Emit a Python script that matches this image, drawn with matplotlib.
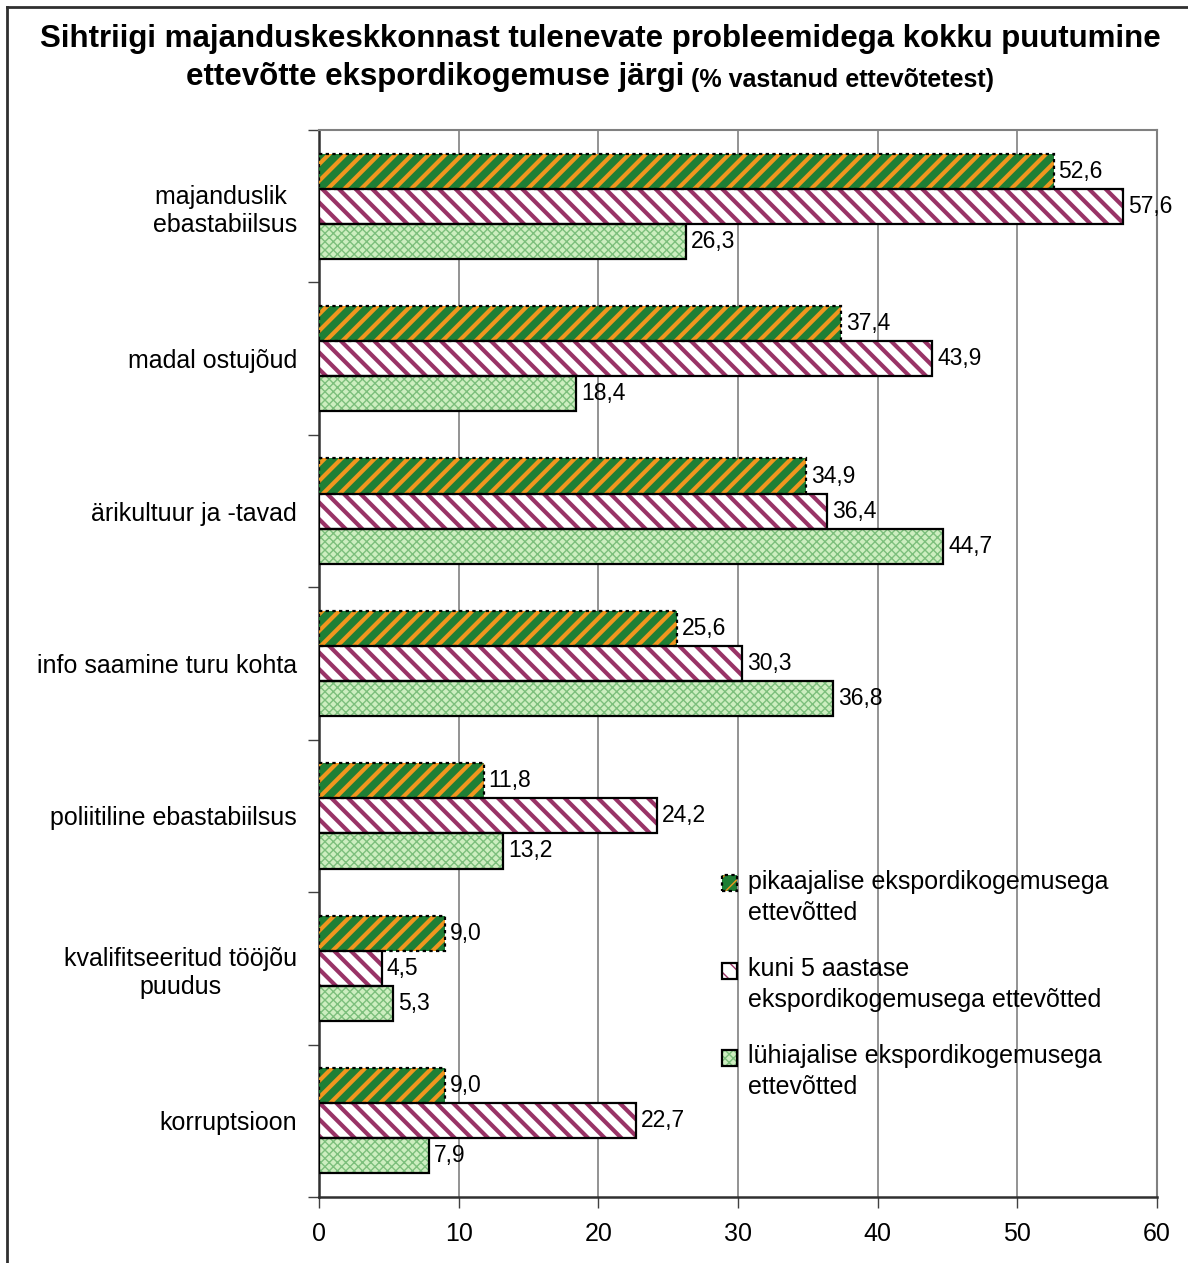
import matplotlib
matplotlib.use("Agg")
import matplotlib.pyplot as plt
from matplotlib.lines import Line2D
from matplotlib.legend_handler import HandlerTuple
import numpy as np

plt.rcParams['font.family'] = ['Liberation Sans', 'DejaVu Sans']

categories = ["majanduslik \nebastabiilsus", "madal ostujõud", "ärikultuur ja -tavad",
              "info saamine turu kohta", "poliitiline ebastabiilsus",
              "kvalifitseeritud tööjõu\npuudus", "korruptsioon"]
series_names = ["pikaajalise ekspordikogemusega\nettevõtted",
                "kuni 5 aastase\nekspordikogemusega ettevõtted",
                "lühiajalise ekspordikogemusega\nettevõtted"]
pik = [52.6, 37.4, 34.9, 25.6, 11.8, 9.0, 9.0]
kuni = [57.6, 43.9, 36.4, 30.3, 24.2, 4.5, 22.7]
luh = [26.3, 18.4, 44.7, 36.8, 13.2, 5.3, 7.9]
xticks = [0, 10, 20, 30, 40, 50, 60]

W, H = 1188, 1263
fig = plt.figure(figsize=(W/100, H/100), dpi=100)
ax = fig.add_axes([319/W, 1-1197/H, (1157-319)/W, (1197-130)/H])

y = np.arange(len(categories))
bh = 0.23
styles = [
    dict(face='#1f7f35', hatch='//', hcolor='#f0961e', hlw=3.0, ls=(0, (1.5, 1.5))),
    dict(face='white', hatch='\\\\', hcolor='#993366', hlw=3.0, ls='-'),
    dict(face='#cdeec0', hatch='xxxx', hcolor='#7cbf7c', hlw=1.0, ls='-'),
]
handles = []
for i, (vals, st) in enumerate(zip([pik, kuni, luh], styles)):
    pos = y + (i - 1) * bh
    with plt.rc_context({'hatch.linewidth': st['hlw'], 'hatch.color': st['hcolor']}):
        b1 = ax.barh(pos, vals, height=bh, color=st['face'], hatch=st['hatch'],
                     edgecolor=st['hcolor'], linewidth=0, zorder=3)
    b2 = ax.barh(pos, vals, height=bh, fill=False, edgecolor='black',
                 linewidth=1.6, linestyle=st['ls'], zorder=4)
    handles.append((b1.patches[0], b2.patches[0]))
    for p, v in zip(pos, vals):
        ax.text(v + 0.35, p, f"{v:.1f}".replace('.', ','), va='center', ha='left',
                fontsize=16.5, zorder=5)

ax.set_xlim(0, 60)
ax.set_ylim(len(categories) - 0.5, -0.5)
ax.set_xticks(xticks)
ax.set_xticklabels([str(t) for t in xticks], fontsize=18)
ax.set_yticks(y)
ax.set_yticklabels(categories, fontsize=18, multialignment='center')
ax.set_yticks(np.arange(len(categories) + 1) - 0.5, minor=True)
ax.tick_params(axis='y', which='major', length=0, pad=16)
ax.tick_params(axis='y', which='minor', length=8, width=1, color='#404040')
ax.tick_params(axis='x', length=8, width=1, color='#404040', pad=10)
ax.xaxis.grid(True, color='#808080', linewidth=1.2, zorder=0)
for s in ['top', 'right']:
    ax.spines[s].set_color('#808080')
    ax.spines[s].set_linewidth(1.5)
for s in ['left', 'bottom']:
    ax.spines[s].set_color('#303030')
    ax.spines[s].set_linewidth(1.8)


class TopHandler(HandlerTuple):
    def create_artists(self, legend, orig_handle, xdescent, ydescent, width, height,
                       fontsize, trans):
        return super().create_artists(legend, orig_handle, xdescent, ydescent - 10.5,
                                      width, height, fontsize, trans)


leg = ax.legend(handles, series_names, handler_map={tuple: TopHandler(ndivide=1, pad=0)},
                loc='upper left', bbox_to_anchor=((722-319)/(1157-319), 1-(870-130)/(1197-130)),
                frameon=False, fontsize=18, handlelength=0.6, handleheight=0.6,
                handletextpad=0.45, labelspacing=1.3, borderaxespad=0, borderpad=0)
for t in leg.get_texts():
    t.set_linespacing(1.35)

# outer frame
fig.add_artist(Line2D([7/W, 7/W], [0, 1-7/H], color='#303030', lw=2, transform=fig.transFigure))
fig.add_artist(Line2D([7/W, 1], [1-7/H, 1-7/H], color='#303030', lw=2, transform=fig.transFigure))

fig.text(600/W, 1-47/H, "Sihtriigi majanduskeskkonnast tulenevate probleemidega kokku puutumine",
         ha='center', va='baseline', fontsize=22.5, fontweight='bold')
t1 = fig.text(186/W, 1-85/H, "ettevõtte ekspordikogemuse järgi",
              ha='left', va='baseline', fontsize=22.5, fontweight='bold')
ax.annotate(" (% vastanud ettevõtetest)", xy=(1, 0), xycoords=t1,
            xytext=(0, 0), textcoords='offset points',
            ha='left', va='bottom', fontsize=18, fontweight='bold', annotation_clip=False)

fig.savefig("out.png", dpi=100)
